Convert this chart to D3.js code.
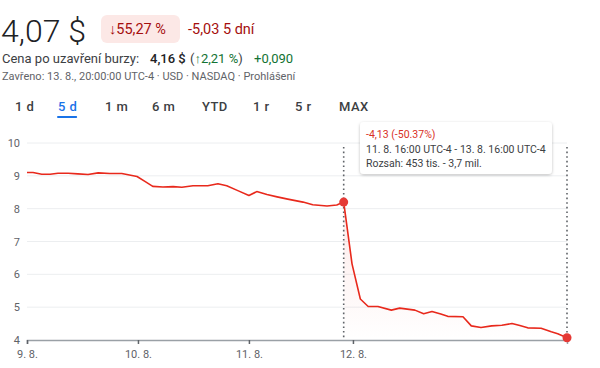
<!DOCTYPE html>
<html><head><meta charset="utf-8">
<script src="https://cdn.jsdelivr.net/npm/d3@7"></script>
<style>
html,body{margin:0;padding:0;background:#fff;}
svg{display:block;font-family:Roboto,"Noto Sans",Arial,sans-serif;}
</style></head>
<body>
<svg id="c" width="600" height="368"></svg>
<script>
// ---- data ----
const times = [0,1.3,3.2,5.0,6.7,8.9,11.0,13.2,15.4,17.9,20.5,23.8,25.5,27.2,29.4,31.6,33.5,35.9,39.1,41.3,43.2,45.6,48.0,49.7,51.9,54.1,56.4,59.7,61.8,64.9,67.0,68.5,70.3,72.1,73.8,75.9,78.8,80.6,83.9,85.8,87.6,89.5,91.0,94.3,96.1,98.2,100.5,102.7,104.9,106.6,108.3,111.2,113.4,114.8,116.8];
const prices = [9.10,9.10,9.05,9.05,9.08,9.08,9.06,9.04,9.09,9.07,9.07,8.98,8.83,8.68,8.66,8.67,8.65,8.70,8.70,8.76,8.70,8.55,8.40,8.52,8.43,8.36,8.29,8.20,8.12,8.08,8.11,8.20,6.32,5.25,5.02,5.02,4.91,4.97,4.91,4.80,4.87,4.79,4.72,4.71,4.43,4.38,4.43,4.45,4.50,4.44,4.37,4.36,4.25,4.19,4.07];
const yTicks = [4,5,6,7,8,9,10];
const xTickTimes = [0,24,48,70.5];
const xTickLabels = ["9. 8.","10. 8.","11. 8.","12. 8."];
const selStart = 68.5, selEnd = 116.8;
const ranges = ["1 d","5 d","1 m","6 m","YTD","1 r","5 r","MAX"];
const activeRange = "5 d";
const tooltipLines = ["-4,13 (-50.37%)","11. 8. 16:00 UTC-4 - 13. 8. 16:00 UTC-4","Rozsah: 453 tis. - 3,7 mil."];

const svg = d3.select("#c");
const RED = "#e8291c";

// ---- header ----
svg.append("text").attr("x",1).attr("y",42).attr("font-size",32).attr("font-weight",300).attr("fill","#202124").text("4,07 $");
svg.append("rect").attr("x",101).attr("y",15).attr("width",79).attr("height",28).attr("rx",6).attr("fill","#fce8e6");
svg.append("text").attr("x",109).attr("y",34).attr("font-size",14.5).attr("fill","#a50e0e").text("↓55,27 %");
svg.append("text").attr("x",188).attr("y",34).attr("font-size",14.5).attr("fill","#a50e0e").text("-5,03 5 dní");

const l2 = svg.append("text").attr("x",2).attr("y",63).attr("font-size",13).attr("fill","#3c4043");
l2.append("tspan").text("Cena po uzavření burzy:");
l2.append("tspan").attr("x",150).attr("fill","#202124").attr("font-weight",500).text("4,16 $");
l2.append("tspan").attr("x",190).text("(");
l2.append("tspan").attr("fill","#137333").text("↑2,21 %");
l2.append("tspan").text(")");
l2.append("tspan").attr("x",254).attr("fill","#137333").text("+0,090");

svg.append("text").attr("x",2).attr("y",80).attr("font-size",11).attr("fill","#5f6368")
  .text("Zavřeno: 13. 8., 20:00:00 UTC-4 · USD · NASDAQ · Prohlášení");

// ---- range tabs ----
const tabX = [15,58,105,152,202,253,295,339];
ranges.forEach((r,i)=>{
  const act = r===activeRange;
  const t = svg.append("text").attr("x",tabX[i]).attr("y",111).attr("font-size",13)
    .attr("font-weight",500).attr("letter-spacing",0.4).attr("fill",act?"#1a73e8":"#3c4043").text(r);
  if(act){
    const w = t.node().getComputedTextLength();
    svg.append("rect").attr("x",tabX[i]-1).attr("y",116).attr("width",w+1).attr("height",2).attr("rx",1).attr("fill","#1a73e8");
  }
});

// ---- chart ----
const x = d3.scaleLinear().domain([0, times[times.length-1]]).range([27,567]);
const y = d3.scaleLinear().domain([4,10]).range([340,143]);
const data = times.map((t,i)=>({t, v:prices[i]}));

// grid
svg.append("g").selectAll("line").data(yTicks.filter(d=>d>4)).join("line")
  .attr("x1",27).attr("x2",567).attr("y1",d=>y(d)).attr("y2",d=>y(d))
  .attr("stroke","#eceef0").attr("stroke-width",1);

// y labels
svg.append("g").selectAll("text").data(yTicks).join("text")
  .attr("x",20).attr("y",d=>y(d)+4).attr("text-anchor","end")
  .attr("font-size",11).attr("fill","#5f6368").text(d=>d);

// selection gradient area
const defs = svg.append("defs");
const grad = defs.append("linearGradient").attr("id","sg").attr("x1",0).attr("y1",0).attr("x2",0).attr("y2",1);
grad.append("stop").attr("offset","0%").attr("stop-color",RED).attr("stop-opacity",0.10);
grad.append("stop").attr("offset","100%").attr("stop-color",RED).attr("stop-opacity",0);
const sel = data.filter(d=>d.t>=selStart && d.t<=selEnd);
svg.append("path").datum(sel)
  .attr("d", d3.area().x(d=>x(d.t)).y0(y(4)).y1(d=>y(d.v)))
  .attr("fill","url(#sg)");

// axis
const xAxis = d3.axisBottom(x).tickValues(xTickTimes).tickFormat((d,i)=>xTickLabels[i]).tickSize(4).tickPadding(6);
const ag = svg.append("g").attr("transform","translate(0,340)").call(xAxis);
ag.select(".domain").attr("stroke","#9aa0a6").attr("stroke-width",1.5);
ag.selectAll(".tick line").attr("stroke","#5f6368").attr("stroke-width",1.5);
ag.selectAll(".tick text").attr("font-size",11).attr("fill","#5f6368").attr("font-family","Roboto,sans-serif");

// dotted selection lines
[selStart, selEnd].forEach(t=>{
  svg.append("line").attr("x1",x(t)).attr("x2",x(t)).attr("y1",147).attr("y2",340)
    .attr("stroke","#5f6368").attr("stroke-width",1.6).attr("stroke-dasharray","1.6,3");
});

// line
svg.append("path").datum(data)
  .attr("d", d3.line().x(d=>x(d.t)).y(d=>y(d.v)))
  .attr("fill","none").attr("stroke",RED).attr("stroke-width",1.6).attr("stroke-linejoin","round");

// markers
const sIdx = times.indexOf(selStart);
[data[sIdx], data[data.length-1]].forEach(d=>{
  svg.append("circle").attr("cx",x(d.t)).attr("cy",y(d.v)).attr("r",4.5).attr("fill","#e53935");
});

// tooltip
const filt = defs.append("filter").attr("id","sh").attr("x","-10%").attr("y","-20%").attr("width","120%").attr("height","150%");
filt.append("feDropShadow").attr("dx",0).attr("dy",1).attr("stdDeviation",1.5).attr("flood-color","#000").attr("flood-opacity",0.25);
svg.append("rect").attr("x",360).attr("y",122).attr("width",192).attr("height",52).attr("rx",4)
  .attr("fill","#fff").attr("filter","url(#sh)");
tooltipLines.forEach((s,i)=>{
  svg.append("text").attr("x",366).attr("y",138+i*14.5).attr("font-size",10.5)
    .attr("fill", i===0?"#d93025":"#3c4043").text(s);
});
</script>
</body></html>
